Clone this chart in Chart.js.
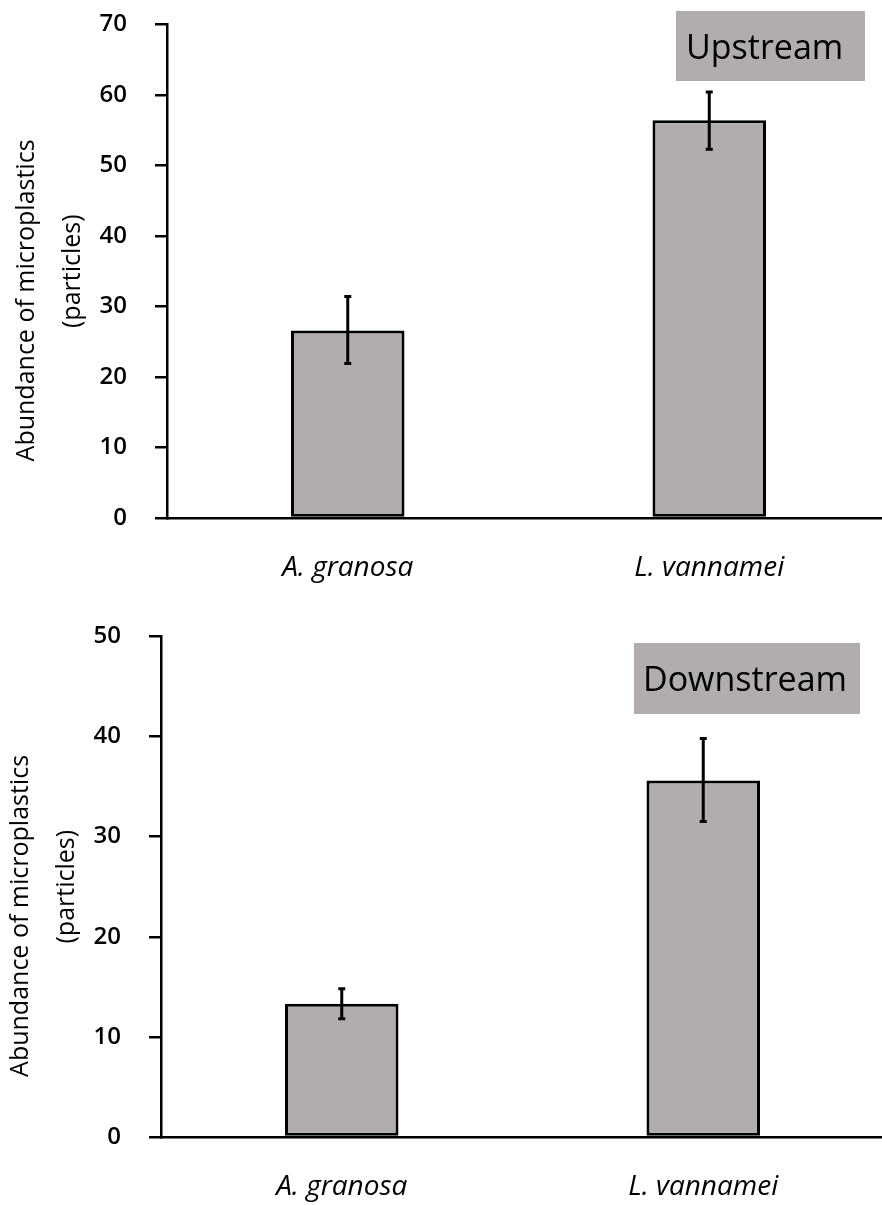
<!DOCTYPE html>
<html>
<head>
<meta charset="utf-8">
<script src="https://cdn.jsdelivr.net/npm/chart.js@4.4.0/dist/chart.umd.min.js"></script>
<style>
html, body { margin: 0; padding: 0; background: #fff; overflow: hidden; width: 882px; height: 1205px; }
.wrap { position: absolute; width: 900px; }
#upWrap { left: 0; top: -18px; height: 618px; }
#downWrap { left: -6px; top: 594px; height: 611px; }
</style>
</head>
<body>
<div class="wrap" id="upWrap"><canvas id="up" width="900" height="618"></canvas></div>
<div class="wrap" id="downWrap"><canvas id="down" width="900" height="611"></canvas></div>
<script>
var species = ['A. granosa', 'L. vannamei'];

var upstreamMean = [26.6, 56.4];
var upstreamLow = [21.9, 52.3];
var upstreamHigh = [31.4, 60.4];
var upstreamMax = 70;

var downstreamMean = [13.3, 35.6];
var downstreamLow = [11.8, 31.5];
var downstreamHigh = [14.8, 39.8];
var downstreamMax = 50;

var tickStep = 10;
var yTitle = ['Abundance of microplastics' + '\u00a0'.repeat(9), '(particles)'];

Chart.defaults.font.family = "'Open Sans', 'Noto Sans', sans-serif";
Chart.defaults.color = '#000';

// whiskers drawn from the y scale
var errorBars = {
    id: 'errorBars',
    afterDatasetsDraw: function (chart, args, opts) {
        var ctx = chart.ctx;
        var y = chart.scales.y;
        var meta = chart.getDatasetMeta(0);
        ctx.save();
        ctx.strokeStyle = '#000';
        ctx.lineWidth = 3;
        meta.data.forEach(function (bar, i) {
            var top = y.getPixelForValue(opts.high[i]);
            var bottom = y.getPixelForValue(opts.low[i]);
            ctx.beginPath();
            ctx.moveTo(bar.x, top);
            ctx.lineTo(bar.x, bottom);
            ctx.moveTo(bar.x - 3.5, top);
            ctx.lineTo(bar.x + 3.5, top);
            ctx.moveTo(bar.x - 3.5, bottom);
            ctx.lineTo(bar.x + 3.5, bottom);
            ctx.stroke();
        });
        ctx.restore();
    }
};

// grey box with the site name
var siteLabel = {
    id: 'siteLabel',
    afterDraw: function (chart, args, opts) {
        var ctx = chart.ctx;
        ctx.save();
        ctx.fillStyle = '#b0adac';
        ctx.fillRect(opts.x, opts.y, opts.w, opts.h);
        ctx.fillStyle = '#000';
        ctx.font = "34px 'Open Sans', sans-serif";
        ctx.textBaseline = 'middle';
        ctx.fillText(opts.text, opts.x + opts.pad, opts.y + opts.h / 2 + 3);
        ctx.restore();
    }
};

function drawChart(id, mean, low, high, max, axisHeight, label) {
    var element = document.getElementById(id).getContext('2d');
    return new Chart(element, {
        type: 'bar',
        data: {
            labels: species,
            datasets: [
                {
                    data: mean,
                    backgroundColor: '#b0adac',
                    borderColor: '#000',
                    borderWidth: 3,
                    borderSkipped: false,
                    barPercentage: 0.314,
                    categoryPercentage: 1
                }
            ]
        },
        options: {
            responsive: false,
            animation: false,
            layout: { padding: { top: 0, right: 10, left: 0, bottom: 0 } },
            plugins: {
                legend: { display: false },
                tooltip: { enabled: false },
                errorBars: { low: low, high: high },
                siteLabel: label
            },
            scales: {
                x: {
                    grid: { display: false, drawTicks: false },
                    border: { display: true, color: '#000', width: 2.5 },
                    ticks: { padding: 33, color: '#000', font: { size: 28, style: 'italic' } },
                    afterFit: function (s) { s.height = axisHeight; }
                },
                y: {
                    min: 0,
                    max: max,
                    ticks: { stepSize: tickStep, padding: 28, color: '#000', font: { size: 24, weight: '600' } },
                    grid: { drawOnChartArea: false, drawTicks: true, tickLength: 12, color: '#000', lineWidth: 2.5 },
                    border: { display: true, color: '#000', width: 2.5 },
                    title: {
                        display: true,
                        text: yTitle,
                        color: '#000',
                        font: { size: 25, lineHeight: 1.84 },
                        padding: { top: 4, bottom: 0 }
                    },
                    afterFit: function (s) { s.width = 167; }
                }
            }
        },
        plugins: [errorBars, siteLabel]
    });
}

drawChart('up', upstreamMean, upstreamLow, upstreamHigh, upstreamMax, 82,
    { text: 'Upstream', x: 676, y: 29, w: 189, h: 70, pad: 10 });
drawChart('down', downstreamMean, downstreamLow, downstreamHigh, downstreamMax, 68,
    { text: 'Downstream', x: 640, y: 49, w: 226, h: 71, pad: 9 });
</script>
</body>
</html>
